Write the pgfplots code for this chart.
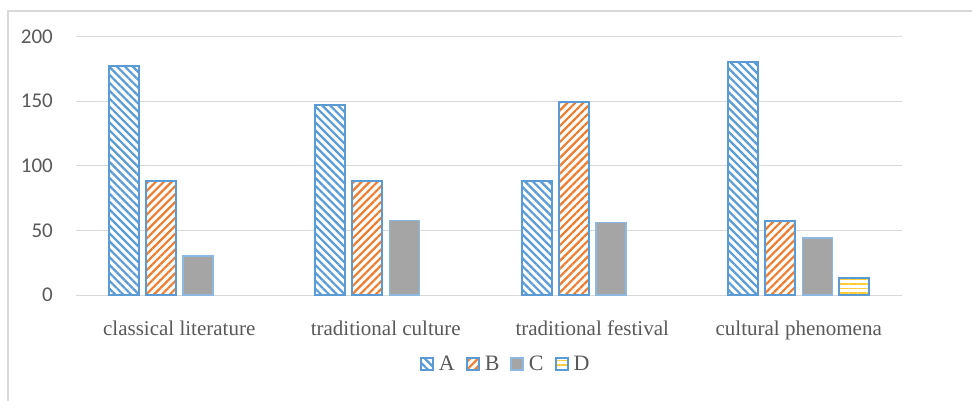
\documentclass[border=0pt]{standalone}
\usepackage{fontspec}
\setmainfont{Liberation Serif}
\newfontfamily\carlito{Carlito}
\usepackage{pgfplots}
\pgfplotsset{compat=1.18}
\usetikzlibrary{patterns.meta}
\definecolor{blueA}{HTML}{5B9BD5}
\definecolor{orangeB}{HTML}{ED7D31}
\definecolor{grayC}{HTML}{A5A5A5}
\definecolor{yellowD}{HTML}{FFC000}
\definecolor{gridc}{HTML}{D9D9D9}
\definecolor{textc}{HTML}{595959}
\definecolor{framec}{HTML}{D9D9D9}
\begin{document}
\begin{tikzpicture}[x=1pt,y=1pt]
\useasboundingbox (0,0) rectangle (972,-401);
\fill[white] (0,0) rectangle (972,-401);
\draw[framec, line width=1.5pt] (8,-401) -- (8,-11) -- (972,-11);
\begin{axis}[
  at={(76pt,-295pt)}, anchor=south west,
  scale only axis, width=826pt, height=258.5pt,
  xmin=-0.5, xmax=3.5, ymin=0, ymax=200,
  ytick={0,50,100,150,200},
  xtick={0,1,2,3},
  xticklabels={classical literature, traditional culture, traditional festival, cultural phenomena},
  axis line style={draw=none},
  major tick length=0pt,
  ymajorgrids, grid style={gridc, line width=1pt},
  ybar=7pt, bar width=30pt,
  /pgf/number format/assume math mode=true,
  yticklabel style={font=\carlito\fontsize{21}{25}\selectfont, text=textc, anchor=east, inner sep=0pt, xshift=-23pt},
  xticklabel style={font=\fontsize{21}{25}\selectfont, text=textc, anchor=base, inner sep=0pt, yshift=-40.7pt},
  legend columns=4,
  legend style={draw=none, fill=none, inner sep=0pt, at={(0.519,-0.267)}, anchor=center,
    font=\fontsize{22}{26}\selectfont, text=textc,
    nodes={inner sep=0pt},
    /tikz/every odd column/.append style={column sep=5pt},
    /tikz/every even column/.append style={column sep=11pt}},
  legend image code/.code={\draw[#1] (0pt,-6pt) rectangle (12pt,6pt);},
]
\addplot[draw=blueA, line width=2pt, preaction={fill=white},
  pattern={Lines[angle=-45,distance=5.6pt,line width=2.2pt]}, pattern color=blueA]
  coordinates {(0,177) (1,147) (2,88.5) (3,180)};
\addlegendentry{A}
\addplot[draw=blueA, line width=2pt, preaction={fill=white},
  pattern={Lines[angle=45,distance=5.6pt,line width=2.2pt]}, pattern color=orangeB]
  coordinates {(0,88) (1,88.5) (2,149.5) (3,57.5)};
\addlegendentry{B}
\addplot[draw=blueA!70, line width=1.5pt, fill=grayC]
  coordinates {(0,30) (1,57.5) (2,56) (3,44)};
\addlegendentry{C}
\addplot[draw=blueA, line width=2pt, preaction={fill=white},
  pattern={Lines[angle=0,distance=4.5pt,line width=1.6pt]}, pattern color=yellowD!80]
  coordinates {(3,13)};
\addlegendentry{D}
\end{axis}
\end{tikzpicture}
\end{document}
